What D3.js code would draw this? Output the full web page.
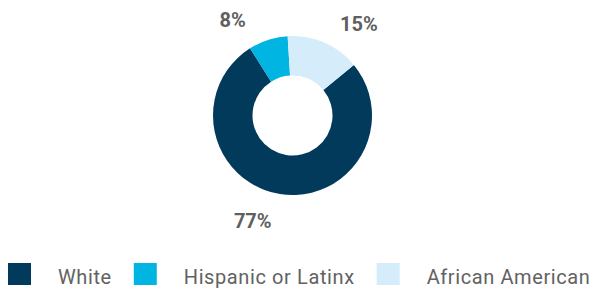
<!DOCTYPE html>
<html>
<head>
<meta charset="utf-8">
<script src="https://cdn.jsdelivr.net/npm/d3@7"></script>
<style>
  body { margin: 0; background: #fff; }
  svg { display: block; font-family: Roboto, "Noto Sans", sans-serif; }
</style>
</head>
<body>
<svg id="chart" width="596" height="288"></svg>
<script>
const svg = d3.select("#chart"); // Select the SVG element

// Data
const categories = ["White", "Hispanic or Latinx", "African American"];
const shares = [77, 8, 15]; // percent
const colors = ["#023a5c", "#00b5e2", "#d5ecfa"];
const labelTurn = [8, -17.6, 9]; // degrees, nudges the % labels off the ring

const cx = 292.5, cy = 115.5; // donut center
const outerR = 79.5, innerR = 40;
const labelR = 113;
const tilt = -3.5 * Math.PI / 180; // whole ring is turned a little

const data = categories.map((c, i) => ({ name: c, value: shares[i], color: colors[i], turn: labelTurn[i] }));

// Start so that African American sits at 12 o'clock
const start = 2 * Math.PI * shares[2] / 100 + tilt;
const pie = d3.pie()
    .sort(null)
    .value(d => d.value)
    .startAngle(start)
    .endAngle(start + 2 * Math.PI);

const arc = d3.arc().innerRadius(innerR).outerRadius(outerR);

const g = svg.append("g").attr("transform", `translate(${cx},${cy})`);

g.selectAll("path")
    .data(pie(data))
    .enter()
    .append("path")
    .attr("d", arc)
    .attr("fill", d => d.data.color);

// Percent labels
const labelAngle = d => (d.startAngle + d.endAngle) / 2 - tilt + d.data.turn * Math.PI / 180;
g.selectAll("text")
    .data(pie(data))
    .enter()
    .append("text")
    .attr("x", d => labelR * Math.sin(labelAngle(d)))
    .attr("y", d => -labelR * Math.cos(labelAngle(d)))
    .attr("text-anchor", "middle")
    .attr("dy", "0.36em")
    .attr("font-size", 20)
    .attr("font-weight", 700)
    .attr("fill", "#5f5f5f")
    .text(d => d.data.value + "%");

// Legend
const legend = svg.append("g").attr("transform", "translate(8,263)");
let x = 0;
data.forEach(d => {
    legend.append("rect")
        .attr("x", x)
        .attr("y", 0)
        .attr("width", 23)
        .attr("height", 22)
        .attr("fill", d.color);
    const t = legend.append("text")
        .attr("x", x + 50)
        .attr("y", 20.5)
        .attr("font-size", 20)
        .attr("font-weight", 400)
        .attr("letter-spacing", 0.6)
        .attr("fill", "#626262")
        .text(d.name);
    x += 50 + t.node().getComputedTextLength() + 22;
});
</script>
</body>
</html>
